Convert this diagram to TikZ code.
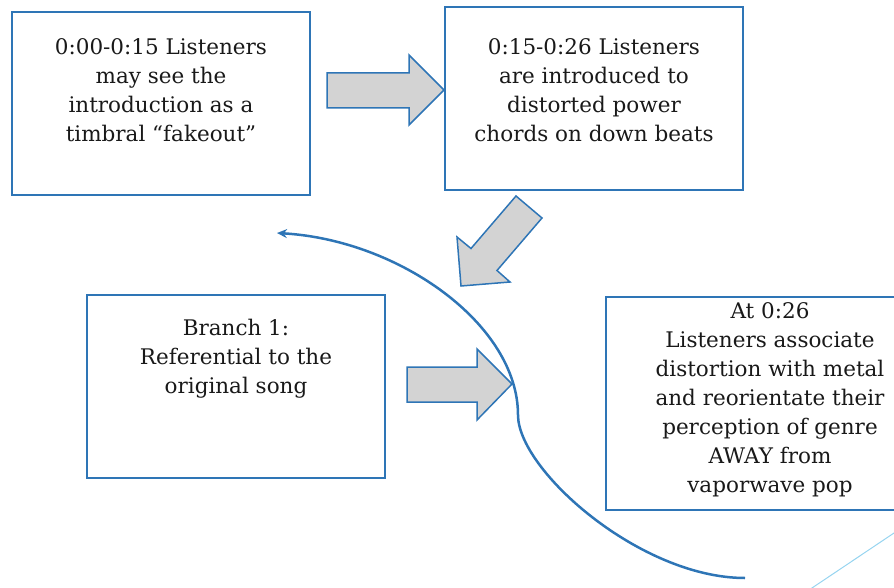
\documentclass[tikz,border=0pt]{standalone}
\usepackage{fontspec}
\setmainfont{DejaVu Serif}
\usetikzlibrary{arrows.meta}
\tikzset{>=stealth}
\definecolor{penColor}{RGB}{46,117,182}
\definecolor{penColor2}{RGB}{211,211,211}
\definecolor{lineColor}{RGB}{150,212,240}
\colorlet{textColor}{black!90}
\tikzset{
  box/.style={draw=penColor, line width=2pt, inner sep=0pt,
    minimum width=298pt, minimum height=183pt},
  txt/.style={align=center, inner sep=0pt, anchor=north, text=textColor,
    font=\fontsize{21.5}{29}\selectfont},
  blockarrow/.style={draw=penColor, fill=penColor2, line width=1.5pt, line join=miter},
}

\begin{document}
\begin{tikzpicture}[x=1pt,y=-1pt]
				\useasboundingbox (0,0) rectangle (894,588);
				\clip (0,0) rectangle (894,588);
				% boxes
				\node [box, line width=2.5pt] (fake) at (161,103.5) {};
				\node [box] (power) at (594,98.5) {};
				\node [box] (branch) at (236,386.5) {};
				\node [box, minimum width=328pt, minimum height=213pt] (genre) at (770,403.5) {};
				
				\node [txt] (fakeText) at (161,38.5) {0:00-0:15 Listeners\\may see the\\introduction as a\\timbral “fakeout”};
				\node [txt] (powerText) at (594,38.5) {0:15-0:26 Listeners\\are introduced to\\distorted power\\chords on down beats};
				\node [txt] (branchText) at (236,318.5) {Branch 1:\\Referential to the\\original song};
				\node [txt] (genreText) at (770,302) {At 0:26\\Listeners associate\\distortion with metal\\and reorientate their\\perception of genre\\AWAY from\\vaporwave pop};
				
				% block arrows
				\draw [blockarrow] (327,73) -- (409,73) -- (409,55) -- (444,90) -- (409,125) -- (409,108) -- (327,108) -- cycle;
				\draw [blockarrow] (542,218) -- (497,270.5) -- (510,282) -- (461,286) -- (457,237) -- (471,248.5) -- (516,196) -- cycle;
				\draw [blockarrow] (407,367) -- (477,367) -- (477,349) -- (512,384) -- (477,420) -- (477,402) -- (407,402) -- cycle;
				
				% the curve back
				\coordinate (s) at (277,233);
				\coordinate (m) at (518,415);
				\coordinate (e) at (745,578);
				\draw [penColor, line width=2.5pt, {Stealth[length=10pt,width=9pt]}-] (s) .. controls (400,240) and (518,325) .. (m) .. controls (518,470) and (640,578) .. (e);
				
				\draw [lineColor, line width=1pt] (806,592) -- (900,529);
\end{tikzpicture}
\end{document}
